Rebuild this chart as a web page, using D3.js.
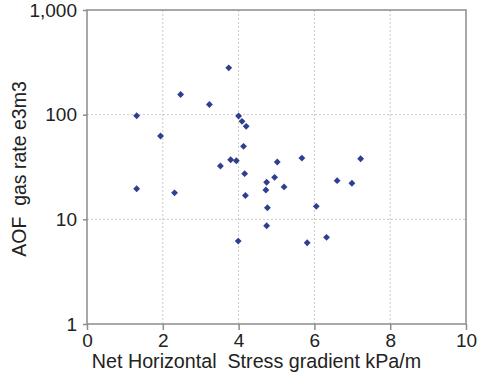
<!DOCTYPE html>
<html>
<head>
<meta charset="utf-8">
<script src="https://cdn.jsdelivr.net/npm/d3@7"></script>
<style>
  body { margin: 0; background: #fff; }
  svg { font-family: "Liberation Sans", Arial, sans-serif; }
</style>
</head>
<body>
<div id="chart"></div>
<script>
// stress gradient (kPa/m) vs AOF gas rate (e3m3)
var stress = [3.74, 2.47, 3.23, 1.31, 4.00, 4.09, 4.20, 1.94, 4.13, 3.79, 3.94,
              3.52, 4.16, 4.74, 4.72, 1.31, 2.31, 4.18, 4.76, 4.74, 3.99,
              5.02, 5.67, 7.22, 4.95, 5.20, 6.60, 6.99, 6.05, 5.81, 6.32];
var aof = [280, 156, 125, 97.6, 97, 86.3, 77.3, 62.5, 49.8, 37.1, 36.3,
           32.3, 27.3, 22.6, 19.05, 19.6, 17.9, 16.9, 12.9, 8.69, 6.2,
           35.3, 38.5, 37.9, 25.2, 20.4, 23.4, 22.1, 13.3, 5.98, 6.73];
var xTicks = [0, 2, 4, 6, 8, 10];
var yTicks = [1, 10, 100, 1000];

var margin = {top: 10, right: 18, bottom: 60, left: 87},
    width = 484 - margin.left - margin.right,
    height = 384 - margin.top - margin.bottom;

var x = d3.scaleLinear().domain([0, 10]).range([0, width]);
var y = d3.scaleLog().domain([1, 1000]).range([height, 0]);

var svg = d3.select("#chart").append("svg")
    .attr("width", 484)
    .attr("height", 384)
  .append("g")
    .attr("transform", "translate(" + margin.left + "," + margin.top + ")");

// grid
svg.selectAll(".vgrid")
    .data(xTicks.slice(1, -1))
  .enter().append("line")
    .attr("x1", function(d) { return x(d); })
    .attr("x2", function(d) { return x(d); })
    .attr("y1", 0).attr("y2", height)
    .attr("stroke", "#c8c8c8")
    .attr("stroke-dasharray", "2,2");

svg.selectAll(".hgrid")
    .data(yTicks.slice(1, -1))
  .enter().append("line")
    .attr("y1", function(d) { return y(d); })
    .attr("y2", function(d) { return y(d); })
    .attr("x1", 0).attr("x2", width)
    .attr("stroke", "#c8c8c8")
    .attr("stroke-dasharray", "2,2");

// frame
svg.append("rect")
    .attr("width", width).attr("height", height)
    .attr("fill", "none")
    .attr("stroke", "#8c8c8c")
    .attr("stroke-width", 1.5);

var xAxis = svg.append("g")
    .attr("transform", "translate(0," + height + ")")
    .call(d3.axisBottom(x).tickValues(xTicks).tickSize(6).tickPadding(4));

var yAxis = svg.append("g")
    .call(d3.axisLeft(y).tickValues(yTicks).tickSize(4).tickPadding(6)
      .tickFormat(d3.format(",")));

[xAxis, yAxis].forEach(function(a) {
  a.select(".domain").remove();
  a.selectAll(".tick line").attr("stroke", "#8c8c8c").attr("stroke-width", 1.5);
  a.selectAll("text").attr("font-size", 19).attr("fill", "#222")
    .attr("font-family", "Liberation Sans, Arial, sans-serif");
});

// points
svg.selectAll(".pt")
    .data(stress.map(function(s, i) { return {x: s, y: aof[i]}; }))
  .enter().append("path")
    .attr("class", "pt")
    .attr("d", d3.symbol().type(d3.symbolDiamond2).size(30))
    .attr("transform", function(d) {
      return "translate(" + x(d.x) + "," + y(d.y) + ")";
    })
    .attr("fill", "#2f3f8f");

svg.append("text")
    .attr("x", width / 2 - 20)
    .attr("y", height + 44)
    .attr("text-anchor", "middle")
    .attr("font-size", 19.7)
    .attr("fill", "#222")
    .attr("xml:space", "preserve")
    .text("Net Horizontal  Stress gradient kPa/m");

svg.append("text")
    .attr("transform", "translate(-61," + (height / 2 + 2) + ") rotate(-90)")
    .attr("text-anchor", "middle")
    .attr("font-size", 19.5)
    .attr("fill", "#222")
    .attr("xml:space", "preserve")
    .text("AOF  gas rate e3m3");
</script>
</body>
</html>
